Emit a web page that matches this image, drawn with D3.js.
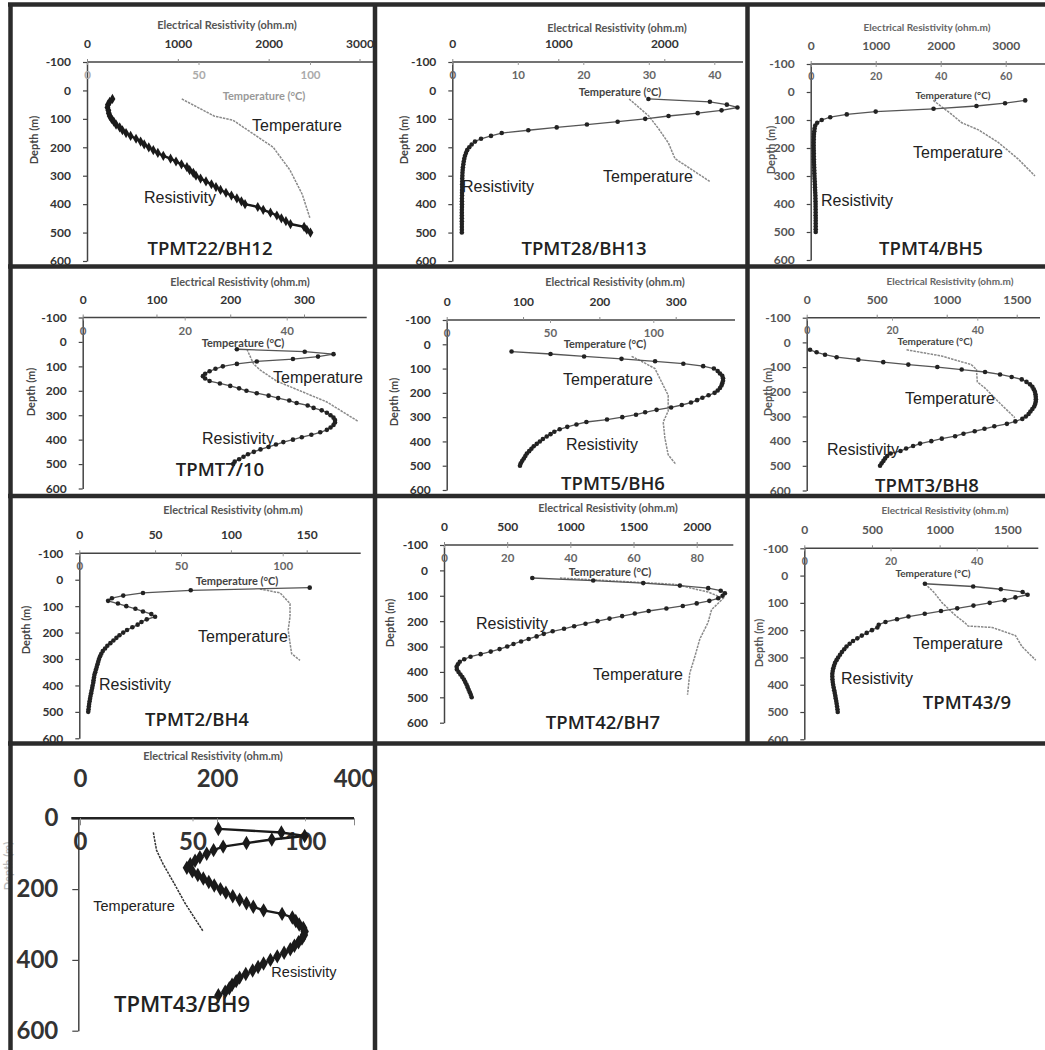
<!DOCTYPE html>
<html>
<head>
<meta charset="utf-8">
<script src="https://cdn.jsdelivr.net/npm/d3@7"></script>
<style>
body { margin: 0; background: #fff; }
svg text { font-family: Lato, "Open Sans", sans-serif; }
</style>
</head>
<body>
<div id="chart"></div>
<script>
// depth of every resistivity sample (m), shared by all boreholes
var depthSteps = [30, 40, 50, 60, 70, 80, 90, 100, 110, 120, 130, 140, 150, 160, 170, 180,
  190, 200, 210, 220, 230, 240, 250, 260, 270, 280, 290, 300, 310, 320, 330, 340,
  350, 360, 370, 380, 390, 400, 410, 420, 430, 440, 450, 460, 470, 480, 490, 500];

// electrical resistivity (ohm.m) at depthSteps
var resBH12 = [280, 250, 230, 225, 235, 240, 250, 270,
  295, 320, 360, 390, 430, 480, 540, 590,
  630, 680, 730, 780, 840, 920, 980, 1040,
  1100, 1130, 1170, 1200, 1250, 1310, 1370, 1420,
  1470, 1530, 1590, 1650, 1700, 1740, 1880, 1940,
  2020, 2090, 2140, 2190, 2240, 2390, 2420, 2460];
var resBH13 = [1850, 2430, 2590, 2690, 2540, 2315, 2040, 1820,
  1560, 1270, 985, 717, 466, 365, 271, 214,
  183, 160, 140, 129, 120, 113, 108, 104,
  100, 98, 96, 95, 94, 94, 93, 93,
  92, 92, 92, 91, 91, 91, 91, 90,
  90, 90, 90, 90, 90, 90, 90, 90];
var resBH5 = [3300, 2990, 2550, 1890, 1000, 555, 300, 170,
  100, 70, 60, 55, 50, 48, 47, 46,
  46, 46, 47, 48, 48, 49, 50, 52,
  54, 55, 56, 58, 60, 62, 64, 66,
  68, 70, 72, 73, 74, 75, 75, 76,
  76, 76, 77, 77, 77, 77, 77, 77];
var res710 = [209, 301, 340, 319, 285, 236, 209, 190,
  180, 172, 166, 163, 166, 172, 186, 200,
  212, 222, 236, 252, 265, 280, 290, 305,
  313, 324, 331, 336, 340, 342, 342, 340,
  336, 331, 322, 310, 297, 285, 272, 262,
  252, 241, 232, 224, 218, 212, 206, 204];
var resBH6 = [85, 136, 180, 229, 273, 310, 336, 350,
  355, 358, 361, 362, 362, 361, 360, 358,
  355, 351, 343, 335, 328, 320, 308, 294,
  275, 260, 248, 230, 210, 183, 170, 158,
  148, 141, 136, 131, 126, 122, 118, 114,
  111, 108, 105, 103, 101, 99, 97, 96];
var resBH8 = [24, 71, 131, 214, 369, 547, 726, 933,
  1107, 1274, 1381, 1464, 1536, 1570, 1595, 1612,
  1622, 1630, 1634, 1636, 1637, 1636, 1632, 1625,
  1612, 1598, 1585, 1565, 1540, 1490, 1430, 1340,
  1270, 1200, 1120, 1060, 965, 890, 810, 760,
  710, 670, 600, 575, 560, 548, 535, 524];
var resBH4 = [152, 73.5, 42, 29, 21.5, 19, 25.5, 31,
  37, 42, 47.5, 50, 44.5, 41, 38.5, 35,
  31.5, 29, 26.5, 24.5, 22.5, 20.5, 18.5, 17,
  15.5, 14.5, 13.7, 13, 12.5, 12, 11.5, 11,
  10.5, 10, 9.7, 9.4, 9.2, 8.8, 8.5, 8.1,
  7.8, 7.4, 7.1, 6.8, 6.5, 6.3, 6.1, 5.9];
var resBH7 = [699, 1181, 1577, 1867, 2091, 2190, 2223, 2205,
  2170, 2100, 2000, 1890, 1760, 1620, 1510, 1410,
  1310, 1215, 1120, 1030, 950, 860, 790, 733,
  670, 610, 550, 500, 440, 370, 290, 210,
  160, 125, 110, 100, 102, 115, 130, 145,
  158, 168, 178, 187, 195, 204, 212, 219];
var res439 = [891, 1248, 1452, 1613, 1650, 1560, 1480, 1370,
  1250, 1130, 1010, 890, 770, 685, 600, 550,
  540, 500, 461, 425, 392, 360, 335, 312,
  295, 278, 264, 250, 238, 227, 220, 214,
  210, 207, 207, 208, 210, 213, 217, 221,
  225, 229, 232, 236, 239, 242, 245, 247];
var resBH9 = [202, 294, 328, 280, 243, 209, 195, 185,
  175, 168, 161, 156, 164, 172, 180, 188,
  196, 205, 213, 223, 233, 243, 253, 268,
  295, 310, 315, 320, 326, 328, 327, 324,
  319, 313, 307, 298, 288, 278, 268, 260,
  252, 242, 233, 228, 222, 218, 212, 202];

// temperature logs: depth (m) and temperature (deg C)
var tempDepthBH12 = [30, 90, 105, 200, 280, 365, 450];
var tempBH12 = [42.5, 57, 65.5, 83.5, 91, 96.5, 100];
var tempDepthBH13 = [30, 90, 135, 185, 240, 270, 320];
var tempBH13 = [27, 30, 31.5, 33, 34, 36, 39.3];
var tempDepthBH5 = [30, 80, 110, 135, 180, 240, 300];
var tempBH5 = [37.7, 43.4, 46.5, 51.6, 57.7, 63.9, 69];
var tempDepth710 = [30, 90, 115, 160, 200, 245, 325];
var temp710 = [32.2, 33.5, 34.8, 38, 42.6, 47.8, 54];
var tempDepthBH6 = [50, 70, 100, 155, 210, 275, 320, 385, 455, 495];
var tempBH6 = [89.5, 94.3, 100.8, 104, 107.2, 107.2, 104.8, 105.6, 107.2, 111];
var tempDepthBH8 = [30, 55, 90, 110, 160, 185, 240, 305];
var tempBH8 = [23.4, 31.6, 38.6, 39.8, 40, 41.8, 44.9, 48.8];
var tempDepthBH4 = [35, 50, 90, 140, 190, 240, 280, 305];
var tempBH4 = [88.8, 98.7, 103.6, 103.6, 102.7, 103.6, 104.4, 108.5];
var tempDepthBH7 = [30, 55, 85, 110, 155, 205, 270, 340, 405, 490];
var tempBH7 = [36.7, 73, 83.6, 88.4, 84.7, 83.6, 81, 79.4, 77.8, 77.1];
var tempDepth439 = [30, 60, 100, 145, 175, 185, 190, 220, 260, 310];
var temp439 = [28, 30, 32, 35, 37.4, 38, 43.6, 49, 50.5, 53.7];
var tempDepthBH9 = [40, 90, 130, 180, 240, 320];
var tempBH9 = [32.6, 34, 37, 41.5, 46.7, 54.8];

// tick labels
var depthTicks = [-100, 0, 100, 200, 300, 400, 500, 600];
var depthTicksBig = [0, 200, 400, 600];

// layout of the ten boxes (pixels)
var panels = [
  {title: "TPMT22/BH12", res: resBH12, tD: tempDepthBH12, t: tempBH12,
   x0: 87, xEnd: 373, yTop: 62, yBot: 261, resTicks: [0, 1000, 2000, 3000], resEndX: 359.5,
   tempTicks: [0, 50, 100], tempEndX: 310, tempCol: "#aaa",
   resTitle: [227, 24], tempTitle: [264, 95], depthTitle: [33, 140],
   tempLab: [297, 125], resLab: [180, 197], titlePos: [210, 247], marker: "diamond"},
  {title: "TPMT28/BH13", res: resBH13, tD: tempDepthBH13, t: tempBH13,
   x0: 452.3, xEnd: 743, yTop: 62, yBot: 261, resTicks: [0, 1000, 2000], resEndX: 664.3,
   tempTicks: [0, 10, 20, 30, 40], tempEndX: 714.3, tempCol: "#666",
   resTitle: [617, 27], tempTitle: [620, 91], depthTitle: [403, 140],
   tempLab: [648, 176], resLab: [498, 186], titlePos: [584, 247], marker: "dot"},
  {title: "TPMT4/BH5", res: resBH5, tD: tempDepthBH5, t: tempBH5,
   x0: 810.7, xEnd: 1045, yTop: 64, yBot: 260, resTicks: [0, 1000, 2000, 3000], resEndX: 1005.7,
   tempTicks: [0, 20, 40, 60], tempEndX: 1005.7, tempCol: "#666", small: true,
   resTitle: [927, 27], tempTitle: [953, 95], depthTitle: [770, 150],
   tempLab: [958, 152], resLab: [857, 200], titlePos: [931, 247], marker: "dot"},
  {title: "TPMT7/10", res: res710, tD: tempDepth710, t: temp710,
   x0: 82.7, xEnd: 366.7, yTop: 317.5, yBot: 488.5, resTicks: [0, 100, 200, 300], resEndX: 304,
   tempTicks: [0, 20, 40], tempEndX: 286.7, tempCol: "#666",
   resTitle: [240, 281], tempTitle: [243, 342], depthTitle: [30, 392],
   tempLab: [318, 377], resLab: [238, 438], titlePos: [220, 468], marker: "dot"},
  {title: "TPMT5/BH6", res: resBH6, tD: tempDepthBH6, t: tempBH6,
   x0: 446.7, xEnd: 735, yTop: 320, yBot: 490, resTicks: [0, 100, 200, 300], resEndX: 675.7,
   tempTicks: [0, 50, 100], tempEndX: 653.3, tempCol: "#666",
   resTitle: [615, 281], tempTitle: [605, 343], depthTitle: [393, 402],
   tempLab: [608, 379], resLab: [602, 444], titlePos: [613, 482], marker: "dot"},
  {title: "TPMT3/BH8", res: resBH8, tD: tempDepthBH8, t: tempBH8,
   x0: 806.7, xEnd: 1040, yTop: 317.7, yBot: 490.5, resTicks: [0, 500, 1000, 1500], resEndX: 1016.7,
   tempTicks: [0, 20, 40], tempEndX: 977.3, tempCol: "#666", small: true,
   resTitle: [950, 281], tempTitle: [935, 341], depthTitle: [767, 392],
   tempLab: [950, 398], resLab: [863, 449], titlePos: [927, 484], marker: "dot"},
  {title: "TPMT2/BH4", res: resBH4, tD: tempDepthBH4, t: tempBH4,
   x0: 79.3, xEnd: 360.7, yTop: 553.3, yBot: 738.3, resTicks: [0, 50, 100, 150], resEndX: 306.7,
   tempTicks: [0, 50, 100], tempEndX: 282.7, tempCol: "#666",
   resTitle: [233, 509], tempTitle: [237, 580], depthTitle: [25, 630],
   tempLab: [243, 636], resLab: [135, 684], titlePos: [197, 718], marker: "dot"},
  {title: "TPMT42/BH7", res: resBH7, tD: tempDepthBH7, t: tempBH7,
   x0: 444, xEnd: 733.3, yTop: 545, yBot: 722.7, resTicks: [0, 500, 1000, 1500, 2000], resEndX: 696.7,
   tempTicks: [0, 20, 40, 60, 80], tempEndX: 696.7, tempCol: "#666",
   resTitle: [608, 507], tempTitle: [610, 571], depthTitle: [389, 623],
   tempLab: [638, 674], resLab: [512, 623], titlePos: [603, 721], marker: "dot"},
  {title: "TPMT43/9", res: res439, tD: tempDepth439, t: temp439,
   x0: 804.3, xEnd: 1038.3, yTop: 548.3, yBot: 739.3, resTicks: [0, 500, 1000, 1500], resEndX: 1007.3,
   tempTicks: [0, 20, 40], tempEndX: 976.7, tempCol: "#666", small: true,
   resTitle: [945, 510], tempTitle: [933, 573], depthTitle: [758, 643],
   tempLab: [958, 643], resLab: [877, 678], titlePos: [967, 701], marker: "dot"},
  {title: "TPMT43/BH9", res: resBH9, tD: tempDepthBH9, t: tempBH9, big: true,
   x0: 78.3, xEnd: 354, yTop: 818.3, yBot: 1030.7, resTicks: [0, 200, 400], resEndX: 354,
   tempTicks: [0, 50, 100], tempEndX: 305, tempCol: "#333",
   resTitle: [213, 755], tempTitle: null, depthTitle: [7, 866],
   tempLab: [134, 906], resLab: [304, 972], titlePos: [182, 1003], marker: "bigdiamond"}
];

var plain = function(d) { return String(d); };

var svg = d3.select("#chart").append("svg")
    .attr("width", 1045)
    .attr("height", 1050);

svg.append("rect").attr("width", 1045).attr("height", 1050).attr("fill", "#fff");

panels.forEach(function(p) {
  var g = svg.append("g");
  var dTicks = p.big ? depthTicksBig : depthTicks;
  var tickFont = p.big ? 24 : 12;

  var y = d3.scaleLinear()
      .domain([dTicks[0], dTicks[dTicks.length - 1]])
      .range([p.yTop, p.yBot]);
  var xRes = d3.scaleLinear()
      .domain([0, d3.max(p.resTicks)])
      .range([p.x0 + (p.big ? 1.7 : 0), p.resEndX]);
  var xTemp = d3.scaleLinear()
      .domain([0, d3.max(p.tempTicks)])
      .range([p.x0 + (p.big ? 1.7 : 0), p.tempEndX]);

  // depth axis
  var yAxis = g.append("g")
      .attr("transform", "translate(" + p.x0 + ",0)")
      .call(d3.axisLeft(y).tickValues(dTicks).tickFormat(plain)
        .tickSize(p.big ? 6 : 4).tickSizeOuter(0).tickPadding(p.big ? 14 : 12));
  yAxis.select(".domain").attr("stroke", "#444").attr("stroke-width", 1.5);
  yAxis.selectAll(".tick line").attr("stroke", "#444").attr("stroke-width", 1.2);
  yAxis.selectAll("text")
      .style("font-size", tickFont + "px").style("font-weight", "bold")
      .attr("fill", p.small ? "#555" : "#333");

  // top axis line shared by both scales
  g.append("line")
      .attr("x1", p.x0 - (p.big ? 7 : 0)).attr("x2", p.xEnd)
      .attr("y1", p.yTop).attr("y2", p.yTop)
      .attr("stroke", p.big ? "#222" : "#444").attr("stroke-width", p.big ? 2.5 : 1.5);

  var resAxis = g.append("g")
      .attr("transform", "translate(0," + p.yTop + ")")
      .call(d3.axisTop(xRes).tickValues(p.resTicks).tickFormat(plain)
        .tickSize(p.big ? -7 : 3).tickPadding(p.big ? 31 : 11));
  resAxis.select(".domain").remove();
  resAxis.selectAll(".tick line").attr("stroke", "#888");
  resAxis.selectAll("text")
      .style("font-size", tickFont + "px").style("font-weight", "bold")
      .attr("fill", p.small ? "#555" : "#333");

  var tempAxis = g.append("g")
      .attr("transform", "translate(0," + p.yTop + ")")
      .call(d3.axisBottom(xTemp).tickValues(p.tempTicks).tickFormat(plain)
        .tickSize(3).tickPadding(p.big ? 12 : 6));
  tempAxis.select(".domain").remove();
  tempAxis.selectAll(".tick line").attr("stroke", "#999");
  tempAxis.selectAll("text")
      .style("font-size", (p.big ? 24 : (p.small ? 10.5 : 11.5)) + "px").style("font-weight", "bold")
      .attr("fill", p.tempCol);

  // axis titles
  g.append("text")
      .attr("x", p.resTitle[0]).attr("y", p.resTitle[1])
      .attr("text-anchor", "middle").attr("dominant-baseline", "central")
      .style("font-size", (p.small ? 10 : 11) + "px").style("font-weight", "bold")
      .attr("fill", p.small ? "#666" : "#555")
      .text("Electrical Resistivity (ohm.m)");

  if (p.tempTitle) {
    g.append("text")
        .attr("x", p.tempTitle[0]).attr("y", p.tempTitle[1])
        .attr("text-anchor", "middle").attr("dominant-baseline", "central")
        .style("font-size", (p.small ? 10 : 11) + "px").style("font-weight", "bold")
        .attr("fill", p.tempCol === "#aaa" ? "#999" : "#444")
        .text("Temperature (\u00B0C)");
  }

  g.append("text")
      .attr("transform", "translate(" + p.depthTitle[0] + "," + p.depthTitle[1] + ") rotate(-90)")
      .attr("text-anchor", "middle").attr("dominant-baseline", "central")
      .style("font-size", "11px").style("font-weight", "bold")
      .attr("fill", p.big ? "#bbb" : (p.small ? "#555" : "#444"))
      .text("Depth (m)");

  // temperature log
  var tempPts = p.tD.map(function(d, i) { return [d, p.t[i]]; });
  g.append("path")
      .datum(tempPts)
      .attr("fill", "none")
      .attr("stroke", p.big ? "#333" : "#8a8a8a")
      .attr("stroke-width", 1.5)
      .attr("stroke-dasharray", "2.5,1")
      .attr("d", d3.line()
        .x(function(d) { return xTemp(d[1]); })
        .y(function(d) { return y(d[0]); }));

  // resistivity profile
  var resPts = depthSteps.map(function(d, i) { return [d, p.res[i]]; });
  var thick = p.marker !== "dot";
  g.append("path")
      .datum(resPts)
      .attr("fill", "none")
      .attr("stroke", thick ? "#1a1a1a" : "#555")
      .attr("stroke-width", thick ? 2.4 : 1.3)
      .attr("d", d3.line()
        .x(function(d) { return xRes(d[1]); })
        .y(function(d) { return y(d[0]); }));

  if (p.marker === "dot") {
    g.selectAll(".pt").data(resPts).enter().append("circle")
        .attr("cx", function(d) { return xRes(d[1]); })
        .attr("cy", function(d) { return y(d[0]); })
        .attr("r", 2.3)
        .attr("fill", "#222");
  } else {
    var sym = d3.symbol().type(d3.symbolDiamond).size(p.marker === "bigdiamond" ? 60 : 30);
    g.selectAll(".pt").data(resPts).enter().append("path")
        .attr("d", sym)
        .attr("transform", function(d) { return "translate(" + xRes(d[1]) + "," + y(d[0]) + ")"; })
        .attr("fill", "#1a1a1a");
  }

  // series labels and borehole name
  var labFont = p.big ? 14.5 : 16;
  g.append("text")
      .attr("x", p.tempLab[0]).attr("y", p.tempLab[1])
      .attr("text-anchor", "middle").attr("dominant-baseline", "central")
      .style("font-family", "'Liberation Sans', Arial, sans-serif")
      .style("font-size", labFont + "px").attr("fill", "#222")
      .text("Temperature");
  g.append("text")
      .attr("x", p.resLab[0]).attr("y", p.resLab[1])
      .attr("text-anchor", "middle").attr("dominant-baseline", "central")
      .style("font-family", "'Liberation Sans', Arial, sans-serif")
      .style("font-size", labFont + "px").attr("fill", "#222")
      .text("Resistivity");
  g.append("text")
      .attr("x", p.titlePos[0]).attr("y", p.titlePos[1])
      .attr("text-anchor", "middle").attr("dominant-baseline", "central")
      .style("font-family", "'Open Sans', sans-serif")
      .style("font-size", (p.big ? 22 : 18.5) + "px").style("font-weight", 600)
      .attr("fill", "#222")
      .text(p.title);
});

// box frame
var frame = [
  [8, 4.5, 1045, 4.5], [10.5, 3, 10.5, 1050],
  [375, 3, 375, 1050], [747.5, 3, 747.5, 745],
  [8, 266.5, 1045, 266.5], [8, 496, 1045, 496], [8, 743.5, 1045, 743.5]
];
svg.append("g").selectAll("line").data(frame).enter().append("line")
    .attr("x1", function(d) { return d[0]; })
    .attr("y1", function(d) { return d[1]; })
    .attr("x2", function(d) { return d[2]; })
    .attr("y2", function(d) { return d[3]; })
    .attr("stroke", "#2b2b2b")
    .attr("stroke-width", 4.5);
</script>
</body>
</html>
